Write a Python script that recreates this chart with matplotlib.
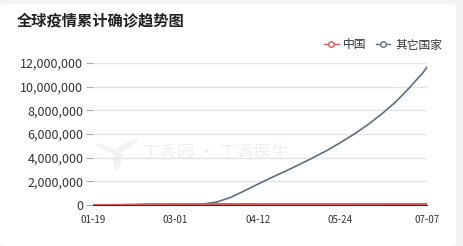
import matplotlib
matplotlib.use('Agg')
import matplotlib.pyplot as plt
import matplotlib.dates as mdates
from matplotlib.lines import Line2D
from matplotlib.patches import FancyBboxPatch, Ellipse
import pandas as pd

plt.rcParams['font.family'] = ['Noto Sans CJK SC', 'DejaVu Sans']

# weekly readings (cumulative confirmed)
dates = ['2020-01-19', '2020-01-26', '2020-02-02', '2020-02-09', '2020-02-16',
         '2020-02-23', '2020-03-01', '2020-03-08', '2020-03-15', '2020-03-22',
         '2020-03-29', '2020-04-05', '2020-04-12', '2020-04-19', '2020-04-26',
         '2020-05-03', '2020-05-10', '2020-05-17', '2020-05-24', '2020-05-31',
         '2020-06-07', '2020-06-14', '2020-06-21', '2020-06-28', '2020-07-05',
         '2020-07-07']
china = [200, 2000, 17000, 40000, 70000, 77000, 80000, 80800, 81000, 81500,
         82000, 82600, 83100, 83800, 83900, 83900, 84000, 84100, 84100, 84100,
         84200, 84400, 84600, 84800, 85000, 85000]
others = [0, 50, 150, 300, 700, 2000, 7000, 25000, 80000, 250000,
          640000, 1190000, 1770000, 2330000, 2860000, 3420000, 4000000, 4600000,
          5280000, 6000000, 6800000, 7700000, 8700000, 9900000, 11200000,
          11650000]
xticks = ['2020-01-19', '2020-03-01', '2020-04-12', '2020-05-24', '2020-07-07']
yticks = [0, 2000000, 4000000, 6000000, 8000000, 10000000, 12000000]

x = pd.to_datetime(dates)
red = '#de5a5a'
gray = '#5f6e7d'

fig = plt.figure(figsize=(4.63, 2.46), dpi=100)
fig.patch.set_facecolor('#f2f2f2')
card = FancyBboxPatch((0, 0), 456 / 463, 242 / 246, boxstyle='round,pad=0,rounding_size=0.012',
                      transform=fig.transFigure, facecolor='white', edgecolor='none',
                      zorder=-10)
fig.patches.append(card)

# faint watermark (leaf + text)
for cx, cy, ang in [(110, 150, 50), (126, 146, -40), (117, 160, 0)]:
    fig.patches.append(Ellipse((cx / 463, 1 - cy / 246), 8 / 463, 20 / 246, angle=ang,
                               transform=fig.transFigure, facecolor='#f2f2f2',
                               edgecolor='none', zorder=-5))
fig.text(142 / 463, 1 - 153 / 246, '丁香园 · 丁香医生', fontsize=12.5, color='#efefef',
         va='center', style='italic', zorder=-5)

ax = fig.add_axes([93 / 463, 41 / 246, 334 / 463, 142 / 246])
ax.set_facecolor('none')
ax.plot(x, others, color=gray, linewidth=1.2, zorder=3)
ax.plot(x, china, color=red, linewidth=1.5, zorder=4)

ax.set_xlim(x[0], x[-1])
ax.set_ylim(0, 12000000)
ax.set_xticks(pd.to_datetime(xticks))
ax.xaxis.set_major_formatter(mdates.DateFormatter('%m-%d'))
ax.set_yticks(yticks)
ax.set_yticklabels(['{:,}'.format(v) for v in yticks])
ax.grid(axis='y', color='#e3e3e3', linewidth=1)
ax.set_axisbelow(True)
ax.tick_params(axis='y', length=5, color='#aaaaaa', labelsize=9, labelcolor='#333333', pad=2)
ax.tick_params(axis='x', length=0, labelsize=7, labelcolor='#333333', pad=7)
for s in ['top', 'right', 'left']:
    ax.spines[s].set_visible(False)
ax.spines['bottom'].set_color('#333333')

fig.text(17 / 463, 1 - 21 / 246, '全球疫情累计确诊趋势图', fontsize=11,
         fontweight='bold', color='#222222', va='center')

handles = [Line2D([], [], color=red, marker='o', markersize=4, markerfacecolor='white',
                  linewidth=1),
           Line2D([], [], color=gray, marker='o', markersize=4, markerfacecolor='white',
                  linewidth=1)]
fig.legend(handles, ['中国', '其它国家'], loc='center right', ncol=2, frameon=False,
           bbox_to_anchor=(448 / 463, 1 - 45 / 246), fontsize=8.5, handlelength=1.2,
           handletextpad=0.4, columnspacing=0.8, labelcolor='#333333', borderpad=0)

fig.savefig('out.png', dpi=100, facecolor=fig.get_facecolor())
